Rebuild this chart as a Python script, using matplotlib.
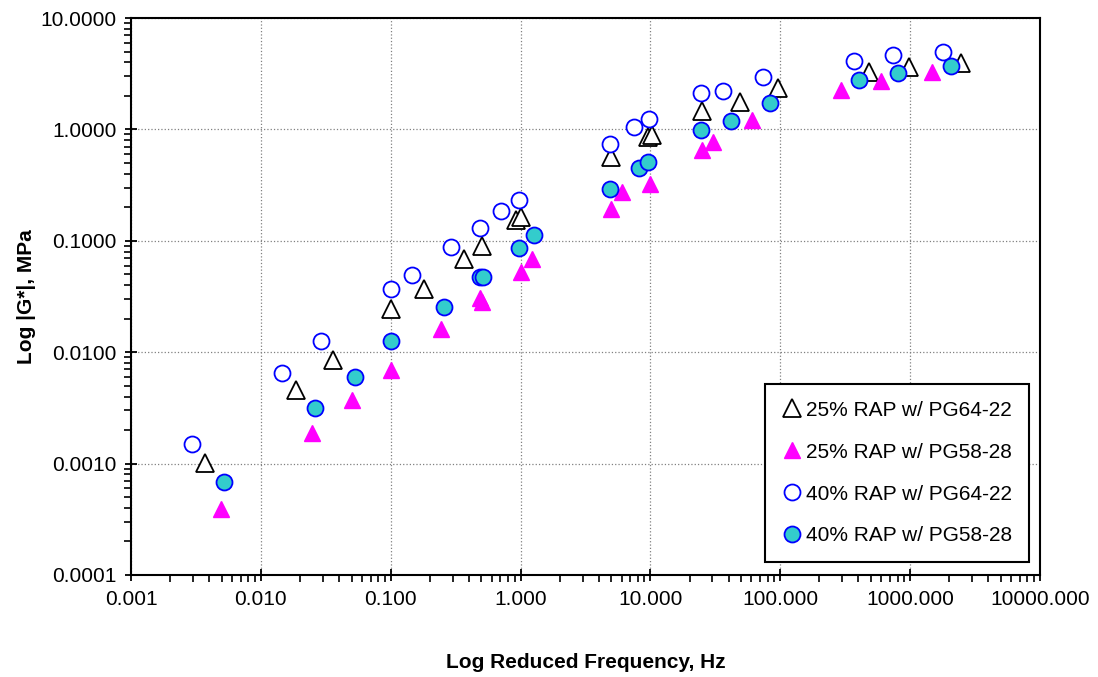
import numpy as np
import matplotlib
matplotlib.use("Agg")
import matplotlib.pyplot as plt
from matplotlib.ticker import FormatStrFormatter, LogLocator, NullFormatter

plt.rcParams['font.family'] = ['Liberation Sans', 'DejaVu Sans']

# 25% RAP w/ PG64-22 (open triangles)
a_freq = [0.00371, 0.0186, 0.0358, 0.1008, 0.1795, 0.364, 0.501, 0.915, 1.0,
          5.01, 9.66, 10.2, 25.1, 49.2, 96.6, 484, 983, 2468]
a_gstar = [0.00101, 0.00458, 0.00851, 0.0244, 0.0369, 0.0687, 0.0898, 0.154, 0.164,
           0.565, 0.855, 0.891, 1.46, 1.76, 2.35, 3.28, 3.63, 3.95]

# 25% RAP w/ PG58-28 (magenta triangles)
b_freq = [0.00492, 0.0247, 0.0501, 0.1008, 0.243, 0.484, 0.501, 1.0, 1.215,
          5.01, 6.09, 10.0, 25.1, 30.5, 60.9, 294, 598, 1476]
b_gstar = [0.000391, 0.00188, 0.00372, 0.00692, 0.0161, 0.0307, 0.0282, 0.0525, 0.0687,
           0.193, 0.274, 0.324, 0.653, 0.771, 1.21, 2.26, 2.72, 3.28]

# 40% RAP w/ PG64-22 (open circles)
c_freq = [0.00294, 0.0145, 0.0290, 0.1, 0.145, 0.290, 0.484, 0.702, 0.966,
          4.84, 7.53, 9.83, 24.3, 36.4, 74.0, 371, 740, 1794]
c_gstar = [0.00150, 0.00650, 0.0126, 0.0369, 0.0493, 0.0880, 0.130, 0.185, 0.232,
           0.740, 1.05, 1.24, 2.12, 2.21, 2.95, 4.11, 4.65, 4.95]

# 40% RAP w/ PG58-28 (filled circles)
d_freq = [0.00519, 0.0260, 0.0528, 0.1, 0.256, 0.484, 0.51, 0.966, 1.27,
          4.84, 8.23, 9.66, 24.7, 42.0, 83.8, 405, 809, 2066]
d_gstar = [0.000684, 0.00316, 0.00599, 0.0126, 0.0255, 0.0473, 0.0473, 0.0861, 0.113,
           0.292, 0.450, 0.510, 0.988, 1.19, 1.73, 2.78, 3.21, 3.71]

fig = plt.figure(figsize=(10.98, 6.77), dpi=100)
ax = fig.add_axes([0.1193, 0.1507, 0.8279, 0.8227])

ax.plot(a_freq, a_gstar, ls='none', marker='^', ms=12.5, mfc='white', mec='black',
        mew=1.3, label='25% RAP w/ PG64-22', zorder=3)
ax.plot(b_freq, b_gstar, ls='none', marker='^', ms=11.5, mfc='#FF00FF', mec='#FF00FF',
        mew=1.0, label='25% RAP w/ PG58-28', zorder=3)
ax.plot(c_freq, c_gstar, ls='none', marker='o', ms=11.5, mfc='white', mec='#0000FF',
        mew=1.3, label='40% RAP w/ PG64-22', zorder=3)
ax.plot(d_freq, d_gstar, ls='none', marker='o', ms=11.5, mfc='#33CCCC', mec='#0000FF',
        mew=1.3, label='40% RAP w/ PG58-28', zorder=3)

ax.set_xscale('log')
ax.set_yscale('log')
ax.set_xlim(0.001, 10000)
ax.set_ylim(0.0001, 10)

ax.xaxis.set_major_locator(LogLocator(base=10, numticks=20))
ax.yaxis.set_major_locator(LogLocator(base=10, numticks=20))
ax.xaxis.set_minor_locator(LogLocator(base=10, subs=np.arange(2, 10), numticks=20))
ax.yaxis.set_minor_locator(LogLocator(base=10, subs=np.arange(2, 10), numticks=20))
ax.xaxis.set_major_formatter(FormatStrFormatter('%.3f'))
ax.yaxis.set_major_formatter(FormatStrFormatter('%.4f'))
ax.xaxis.set_minor_formatter(NullFormatter())
ax.yaxis.set_minor_formatter(NullFormatter())

ax.tick_params(axis='both', which='major', direction='inout', length=9, width=1.3,
               labelsize=15, pad=6)
ax.tick_params(axis='both', which='minor', direction='out', length=5, width=1.2)

ax.grid(True, which='major', color='#808080', linestyle=':', linewidth=0.9)
for s in ax.spines.values():
    s.set_linewidth(1.5)
    s.set_color('black')

ax.set_xlabel('Log Reduced Frequency, Hz', fontsize=15, fontweight='bold', labelpad=32)
ax.set_ylabel('Log |G*|, MPa', fontsize=15, fontweight='bold', labelpad=3)

leg = ax.legend(loc='lower right', bbox_to_anchor=(0.988, 0.023), borderaxespad=0,
                fontsize=15, frameon=True, fancybox=False, framealpha=1,
                edgecolor='black', labelspacing=1.1, handlelength=1.0,
                handletextpad=0.2, borderpad=0.8, markerscale=1.0)
leg.get_frame().set_linewidth(1.5)

fig.savefig('out.png', dpi=100)
